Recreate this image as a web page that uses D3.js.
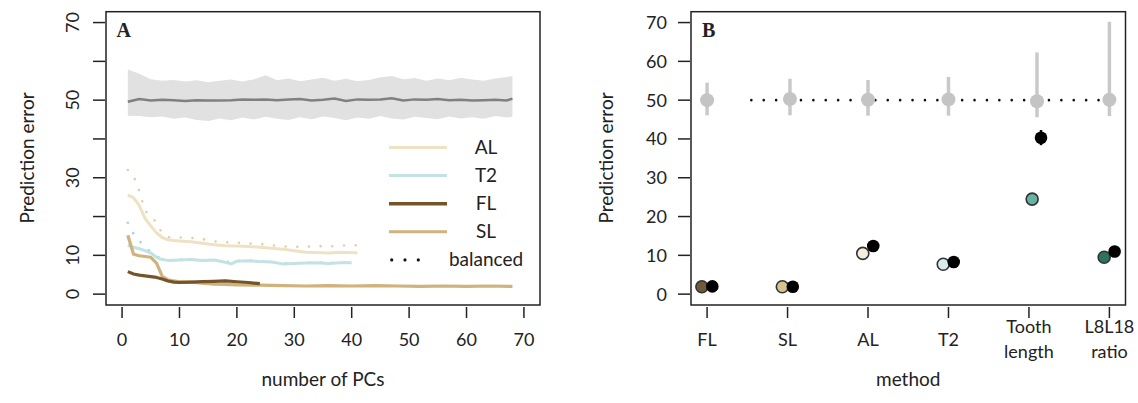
<!DOCTYPE html>
<html>
<head>
<meta charset="utf-8">
<script src="https://cdn.jsdelivr.net/npm/d3@7"></script>
<style>
  body { margin: 0; background: #fff; }
  svg { display: block; }
  text { font-family: "Lato", "Open Sans", sans-serif; fill: #222; }
  .panel-letter { font-family: "Liberation Serif", serif; font-weight: bold; font-size: 20px; }
</style>
</head>
<body>
<div id="chart"></div>
<script>
// ---- panel A: prediction error vs number of PCs ----
const bandPCs   = [1,3,5,7,9,11,13,15,17,19,21,23,25,27,29,31,33,35,37,39,41,43,45,47,49,51,53,55,57,59,61,63,65,67,68];
const bandUpper = [57.9,56.8,55.4,55.0,55.2,54.8,55.1,54.6,55.0,55.3,54.8,55.4,56.4,55.1,55.6,54.9,55.3,55.8,55.0,55.5,54.9,55.2,55.9,56.2,55.4,55.7,55.0,55.6,55.1,55.8,55.3,55.0,55.6,56.0,56.2];
const bandLower = [46.0,45.9,45.6,45.8,45.2,45.5,44.9,44.6,45.3,44.8,45.5,45.0,45.7,45.2,44.9,45.6,45.1,45.8,45.4,44.8,45.5,45.2,45.9,45.3,45.0,45.7,45.4,45.1,45.8,45.3,45.6,45.2,45.9,45.5,45.7];
const bandMean  = [49.6,50.3,49.9,50.1,50.0,49.8,50.0,49.9,49.9,50.0,50.2,50.1,50.2,50.0,50.2,50.3,49.9,50.1,50.4,49.8,50.2,50.1,50.2,50.5,49.9,50.2,50.1,50.3,50.0,50.1,49.9,50.0,50.1,49.9,50.4];

const alPCs = [1,2,3,4,5,6,7,8,9,10,12,14,16,18,20,22,24,26,28,30,32,34,36,38,40,41];
const alErr = [25.5,24.9,22.8,19.5,17.6,15.8,14.6,14.0,13.8,13.7,13.5,13.1,12.7,12.5,12.4,12.3,12.1,11.8,11.6,11.2,10.8,10.7,10.6,10.8,10.7,10.6];
const alBal = [32.0,30.5,26.5,21.5,20.0,18.5,15.5,14.7,14.6,14.6,14.5,14.2,13.6,13.4,13.3,13.1,12.9,12.6,12.3,12.2,12.2,12.4,12.3,12.5,12.6,12.6];

const t2PCs = [1,2,3,4,5,6,7,8,10,12,14,16,18,19,20,22,24,26,28,30,32,34,36,38,40];
const t2Err = [12.6,12.1,11.7,11.2,10.6,9.5,8.9,8.7,8.8,8.9,8.7,8.8,8.2,7.8,8.5,8.6,8.4,8.3,7.8,7.9,8.0,8.1,7.9,8.1,8.1];
const t2Bal = [18.4,15.5,13.8,12.0,11.0,9.8,9.0,8.8,8.9,8.9,8.8,8.9,8.4,8.3,8.6,8.7,8.5,8.4,8.0,8.0,8.1,8.2,8.0,8.2,8.2];

const flPCs = [1,2,3,4,5,6,7,8,9,10,12,14,16,18,20,22,24];
const flErr = [5.8,5.2,4.9,4.7,4.5,4.3,3.9,3.4,3.1,3.0,3.1,3.2,3.3,3.4,3.2,3.0,2.7];

const slPCs = [1,2,3,4,5,6,7,8,9,10,12,14,16,18,20,24,28,32,36,40,44,48,52,56,60,64,68];
const slErr = [15.2,10.3,9.9,9.7,9.5,8.0,4.6,3.7,3.4,3.2,3.1,2.8,2.6,2.5,2.4,2.3,2.2,2.1,2.2,2.1,2.2,2.1,2.0,2.1,2.0,2.1,2.0];

const legendNames = ["AL", "T2", "FL", "SL", "balanced"];
const xTicksA = [0, 10, 20, 30, 40, 50, 60, 70];
const yTicks = [0, 10, 20, 30, 40, 50, 60, 70];
const yLabelsA = [0, 10, 30, 50, 70];

// ---- panel B: prediction error by method ----
const methods   = ["FL", "SL", "AL", "T2", "Tooth length", "L8L18 ratio"];
const nullMean  = [50.0, 50.3, 50.1, 50.2, 49.7, 50.1];
const nullLo    = [46.1, 46.1, 46.0, 46.0, 45.6, 45.9];
const nullHi    = [54.5, 55.5, 55.2, 56.0, 62.3, 70.2];
const methodErr = [1.9, 1.9, 10.5, 7.7, 24.5, 9.5];
const balErr    = [2.0, 1.9, 12.4, 8.3, 40.3, 11.0];
const balLo     = [1.7, 1.7, 11.6, 7.6, 38.4, 10.3];
const balHi     = [2.3, 2.1, 13.2, 9.0, 42.3, 11.7];
const yTicksB = [0, 10, 20, 30, 40, 50, 60, 70];

const W = 1138, H = 403;
const colAL = "#efe1c3", colT2 = "#c2e2e4", colFL = "#76542a", colSL = "#cfb27c";
const methodFill = ["#6e5c38", "#d6c48e", "#f6eedc", "#d8ecec", "#66b3a3", "#2e7262"];

const svg = d3.select("#chart").append("svg")
  .attr("width", W).attr("height", H);

const plotTop = 11.7, plotBottom = 305;
const tickLabelY = 345.5, titleY = 386;
const y = d3.scaleLinear().domain([-2.8, 72.8]).range([plotBottom, plotTop]);

// ================= Panel A =================
const A = { left: 106, right: 540 };
const xA = d3.scaleLinear().domain([-2.8, 72.8]).range([A.left, A.right]);
const gA = svg.append("g");

const band = bandPCs.map((p, i) => ({ x: p, lo: bandLower[i], hi: bandUpper[i], m: bandMean[i] }));
gA.append("path")
  .attr("d", d3.area().x(d => xA(d.x)).y0(d => y(d.lo)).y1(d => y(d.hi))(band))
  .attr("fill", "#e1e1e1");
gA.append("path")
  .attr("d", d3.line().x(d => xA(d.x)).y(d => y(d.m))(band))
  .attr("fill", "none").attr("stroke", "#808080").attr("stroke-width", 2.5);

function series(pcs, vals, color, w, dotted) {
  const pts = pcs.map((p, i) => [xA(p), y(vals[i])]);
  const path = gA.append("path")
    .attr("d", d3.line()(pts))
    .attr("fill", "none").attr("stroke", color)
    .attr("stroke-width", w).attr("stroke-linejoin", "round");
  if (dotted) path.attr("stroke-dasharray", "0 11.7").attr("stroke-linecap", "round");
}
series(alPCs, alBal, "#e2cfa6", 2.6, true);
series(t2PCs, t2Bal, "#a9d3d7", 2.6, true);
series(alPCs, alErr, colAL, 3);
series(t2PCs, t2Err, colT2, 3);
series(slPCs, slErr, colSL, 3.2);
series(flPCs, flErr, colFL, 3.2);

// legend
const legColors = [colAL, colT2, colFL, colSL];
legendNames.forEach((name, i) => {
  const ly = 147.5 + i * 28.1;
  if (i < 4) {
    gA.append("line").attr("x1", 389).attr("x2", 447).attr("y1", ly).attr("y2", ly)
      .attr("stroke", legColors[i]).attr("stroke-width", i === 2 ? 3.5 : 3);
  } else {
    [391.7, 405, 418.3].forEach(cx => gA.append("circle")
      .attr("cx", cx).attr("cy", ly).attr("r", 1.6).attr("fill", "#111"));
  }
  gA.append("text").attr("x", 486).attr("y", ly + 6.5)
    .attr("text-anchor", "middle").attr("font-size", 19).text(name);
});

// frame + axes
gA.append("rect").attr("x", A.left).attr("y", plotTop)
  .attr("width", A.right - A.left).attr("height", plotBottom - plotTop)
  .attr("fill", "none").attr("stroke", "#222").attr("stroke-width", 1.5);

xTicksA.forEach(t => {
  gA.append("line").attr("x1", xA(t)).attr("x2", xA(t))
    .attr("y1", plotBottom + 2).attr("y2", plotBottom + 13).attr("stroke", "#222").attr("stroke-width", 1.5);
  gA.append("text").attr("x", xA(t)).attr("y", tickLabelY)
    .attr("text-anchor", "middle").attr("font-size", 18).text(t);
});
yTicks.forEach(t => {
  gA.append("line").attr("x1", A.left - 13).attr("x2", A.left - 1)
    .attr("y1", y(t)).attr("y2", y(t)).attr("stroke", "#222").attr("stroke-width", 1.5);
});
yLabelsA.forEach(t => {
  gA.append("text").attr("transform", `translate(78.5,${y(t)}) rotate(-90)`)
    .attr("text-anchor", "middle").attr("font-size", 18).text(t);
});
gA.append("text").attr("transform", `translate(34,158) rotate(-90)`)
  .attr("text-anchor", "middle").attr("font-size", 19).text("Prediction error");
gA.append("text").attr("x", (A.left + A.right) / 2).attr("y", titleY)
  .attr("text-anchor", "middle").attr("font-size", 19).text("number of PCs");
gA.append("text").attr("class", "panel-letter").attr("x", 116.5).attr("y", 37).text("A");

// ================= Panel B =================
const B = { left: 691, right: 1125.5 };
const xB = d3.scaleLinear().domain([0.8, 6.2]).range([B.left, B.right]);
const gB = svg.append("g");

// small horizontal shifts (category units) so paired points sit side by side
const nullShift   = [0, 0.03, 0, 0, 0.1, 0];
const methodShift = [-0.065, -0.065, -0.065, -0.065, 0.04, -0.065];
const balShift    = [0.065, 0.065, 0.065, 0.065, 0.15, 0.065];

// balanced reference line at 50
gB.append("line")
  .attr("x1", xB(1.55)).attr("x2", xB(6.1)).attr("y1", y(50)).attr("y2", y(50))
  .attr("stroke", "#111").attr("stroke-width", 2.6)
  .attr("stroke-dasharray", "0 12.4").attr("stroke-linecap", "round");

methods.forEach((m, i) => {
  const cx = xB(i + 1 + nullShift[i]);
  gB.append("line").attr("x1", cx).attr("x2", cx)
    .attr("y1", y(nullLo[i])).attr("y2", y(nullHi[i]))
    .attr("stroke", "#c9c9c9").attr("stroke-width", 3.5);
  gB.append("circle").attr("cx", cx).attr("cy", y(nullMean[i])).attr("r", 7)
    .attr("fill", "#c4c4c4");
});
methods.forEach((m, i) => {
  gB.append("circle").attr("cx", xB(i + 1 + methodShift[i])).attr("cy", y(methodErr[i])).attr("r", 6)
    .attr("fill", methodFill[i]).attr("stroke", "#333").attr("stroke-width", 1.6);
  const bx = xB(i + 1 + balShift[i]);
  gB.append("line").attr("x1", bx).attr("x2", bx)
    .attr("y1", y(balLo[i])).attr("y2", y(balHi[i]))
    .attr("stroke", "#000").attr("stroke-width", 2.5);
  gB.append("circle").attr("cx", bx).attr("cy", y(balErr[i])).attr("r", 6.3)
    .attr("fill", "#000");
});

gB.append("rect").attr("x", B.left).attr("y", plotTop)
  .attr("width", B.right - B.left).attr("height", plotBottom - plotTop)
  .attr("fill", "none").attr("stroke", "#222").attr("stroke-width", 1.5);

yTicksB.forEach(t => {
  gB.append("line").attr("x1", B.left - 13).attr("x2", B.left - 1)
    .attr("y1", y(t)).attr("y2", y(t)).attr("stroke", "#222").attr("stroke-width", 1.5);
  gB.append("text").attr("x", 667).attr("y", y(t) + 6.5)
    .attr("text-anchor", "end").attr("font-size", 18).text(t);
});
methods.forEach((m, i) => {
  const cx = xB(i + 1);
  gB.append("line").attr("x1", cx).attr("x2", cx)
    .attr("y1", plotBottom + 2).attr("y2", plotBottom + 13).attr("stroke", "#222").attr("stroke-width", 1.5);
  const words = m.split(" ");
  const t = gB.append("text").attr("text-anchor", "middle").attr("font-size", 18);
  if (words.length === 1) {
    t.attr("x", cx).attr("y", tickLabelY).text(m);
  } else {
    t.append("tspan").attr("x", cx).attr("y", tickLabelY - 12.5).text(words[0]);
    t.append("tspan").attr("x", cx).attr("y", tickLabelY + 12.5).text(words[1]);
  }
});
gB.append("text").attr("transform", `translate(613,158) rotate(-90)`)
  .attr("text-anchor", "middle").attr("font-size", 19).text("Prediction error");
gB.append("text").attr("x", (B.left + B.right) / 2).attr("y", titleY)
  .attr("text-anchor", "middle").attr("font-size", 19).text("method");
gB.append("text").attr("class", "panel-letter").attr("x", 702).attr("y", 37).text("B");
</script>
</body>
</html>
